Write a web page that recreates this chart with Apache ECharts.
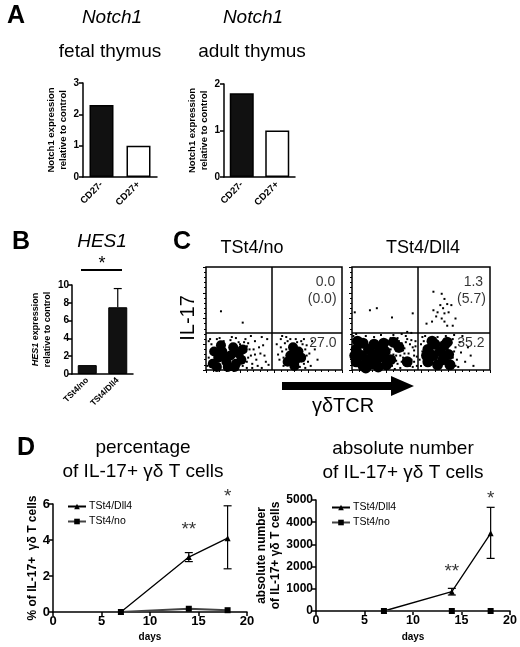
<!DOCTYPE html>
<html><head><meta charset="utf-8">
<script src="https://cdn.jsdelivr.net/npm/echarts@6/dist/echarts.min.js"></script>
<style>html,body{margin:0;padding:0;background:#fff}#c{width:520px;height:647px}</style>
</head><body><div id="c"></div>
<script>
// ---------- DATA ----------
const notchCats = ['CD27-', 'CD27+'];
const fetalNotch = [2.3, 1.0];
const adultNotch = [1.8, 1.0];
const hesCats = ['TSt4/no', 'TSt4/Dll4'];
const hesValues = [1.0, 7.5];
const hesErr = [[1, 7.5, 9.6]]; // [category index, mean, upper]

// flow cytometry (arbitrary 0-100 units), quadrant gates
const gateX = 48, gateY = 36;
const noDense = [[5,6],[9,12],[12,18],[15,8],[18,14],[20,22],[22,6],[24,16],[11,24],[6,18],[16,3],[26,10],[14,13],[21,3],[8,3],[27,20],
  [62,14],[66,10],[68,18],[64,22],[70,12],[60,8],[65,4]];
const noDots = [[2,28],[4,25],[8,30],[13,28],[18,29],[24,27],[27,22],[29,18],[30,8],[31,26],[33,14],[35,20],[37,10],[38,4],[40,16],[42,24],[44,8],[36,28],[29,30],[22,31],[30,2],[34,6],[2,12],[1,4],[27,4],[25,25],[41,32],[33,33],[45,30],[39,22],
  [31,12],[32,20],[34,2],[36,15],[30,23],[28,27],[3,30],[10,31],[19,32],[43,14],[46,5],[41,2],
  [52,25],[54,10],[55,30],[56,18],[57,4],[58,26],[59,32],[72,30],[74,24],[75,8],[76,16],[78,28],[77,4],[73,2],[66,30],[70,28],[62,30],[80,20],[82,10],[56,33],[69,3],[63,3],
  [53,15],[55,22],[57,12],[59,20],[73,20],[74,14],[72,6],[60,28],[67,27],[71,25],[11,57],[27,46]];
const dllDense = [[3,8],[3,20],[7,14],[8,4],[8,26],[11,10],[12,20],[14,6],[15,15],[16,25],[18,10],[19,3],[20,20],[4,28],[22,13],[23,26],[25,5],[28,10],[34,22],[40,8],[30,27],[2,14],[10,2],[24,18],
  [55,8],[55,20],[59,14],[60,25],[62,5],[64,18],[66,10],[67,24],[70,15],[71,5],[58,28],[69,27],[54,14]];
const dllDots = [[26,12],[27,28],[28,20],[29,4],[30,15],[31,24],[32,9],[33,31],[34,18],[35,2],[36,26],[37,12],[38,21],[39,6],[40,30],[41,16],[42,25],[43,10],[44,3],[45,19],[46,28],[47,13],[30,34],[36,35],[40,37],[43,36],[28,31],[33,6],[38,16],[42,4],[45,8],[31,1],[35,14],[39,27],[44,22],[27,17],
  [32,14],[34,28],[36,8],[37,19],[41,11],[43,29],[45,14],[46,23],[29,9],[33,25],[39,33],[47,4],
  [49,10],[50,25],[51,32],[50,4],[73,30],[75,22],[76,10],[77,3],[78,27],[79,17],[80,33],[82,8],[84,22],[86,14],[88,4],[53,33],[62,32],[68,33],[74,34],[1,33],[3,35],[10,33],[16,32],[21,34],
  [73,12],[74,18],[72,26],[75,4],[51,18],[52,28],
  [59,76],[65,74],[67,69],[64,63],[69,64],[72,63],[66,60],[62,56],[67,55],[70,56],[61,52],[65,50],[75,50],[58,47],[67,47],[69,43],[54,45],[73,43],[59,58],
  [13,58],[18,60],[29,51],[44,55],[2,56]];
const noQuad = [[95,85,'0.0'],[96,69,'(0.0)'],[96,26,'27.0']];
const dllQuad = [[95,85,'1.3'],[97,69,'(5.7)'],[96,26,'35.2']];

// time course
const days = [7, 14, 18];
const pctDll = [0, 3.05, 4.1];
const pctNo = [0, 0.18, 0.1];
const pctDllErr = [[14, 2.8, 3.3], [18, 2.4, 5.9]];
const absDll = [0, 870, 3500];
const absNo = [0, 0, 0];
const absDllErr = [[14, 720, 1020], [18, 2370, 4670]];
const pctStars = [[14, 4.55, '**'], [18, 6.4, '*']];
const absStars = [[14, 1750, '**'], [18, 5050, '*']];

// ---------- CHART ----------
const F = 'Liberation Sans, Arial, sans-serif';
const chart = echarts.init(document.getElementById('c'), null, {renderer: 'canvas'});
const axLine = {show: true, lineStyle: {color: '#000', width: 1.5}};
const tick = {show: true, length: 4, lineStyle: {color: '#000', width: 1.5}};
const lblB = (s) => ({color: '#000', fontWeight: 'bold', fontSize: s, fontFamily: F});
const plain = (v) => String(v);

function pair(arrX, arrY) { return arrX.map((x, i) => [x, arrY[i]]); }
function errRender(capOnlyTop) {
  return function (params, api) {
    const x = api.value(0), lo = api.value(1), hi = api.value(2);
    const a = api.coord([x, lo]), b = api.coord([x, hi]);
    const w = 4;
    const ch = [
      {type: 'line', shape: {x1: a[0], y1: a[1], x2: b[0], y2: b[1]}, style: {stroke: '#000', lineWidth: 1.2}},
      {type: 'line', shape: {x1: b[0] - w, y1: b[1], x2: b[0] + w, y2: b[1]}, style: {stroke: '#000', lineWidth: 1.2}}
    ];
    if (!capOnlyTop) ch.push({type: 'line', shape: {x1: a[0] - w, y1: a[1], x2: a[0] + w, y2: a[1]}, style: {stroke: '#000', lineWidth: 1.2}});
    return {type: 'group', children: ch};
  };
}
function txt(x, y, t, size, extra) {
  return {type: 'text', x: x, y: y, style: Object.assign({text: t, font: size + 'px ' + F, fill: '#000', textAlign: 'center', textVerticalAlign: 'middle'}, extra || {})};
}
const flowAxis = (g) => ({type: 'value', gridIndex: g, min: 0, max: 100, interval: 25, axisLine: {show: false}, axisLabel: {show: false}, splitLine: {show: false},
  axisTick: {show: true, length: 3, lineStyle: {color: '#000', width: 1}}, minorTick: {show: true, splitNumber: 5, length: 2, lineStyle: {color: '#000'}}});

const labelSeries = (xi, yi, data) => ({type: 'scatter', xAxisIndex: xi, yAxisIndex: yi, data: data, symbolSize: 0, silent: true, clip: false, z: 5,
  label: {show: true, formatter: (p) => p.data[2], position: [0, 0], align: 'right', verticalAlign: 'middle', fontSize: 14, fontFamily: F, color: '#000'}});
const starSeries = (xi, yi, data) => ({type: 'scatter', xAxisIndex: xi, yAxisIndex: yi, data: data, symbolSize: 0, silent: true, clip: false,
  label: {show: true, formatter: (p) => p.data[2], position: [0, 0], align: 'center', verticalAlign: 'middle', fontSize: 19, fontFamily: F, color: '#000'}});

const option = {
  backgroundColor: '#fff',
  animation: false,
  textStyle: {fontFamily: F},
  grid: [
    {left: 83, top: 83, width: 74, height: 94},
    {left: 224, top: 84, width: 71, height: 93},
    {left: 72, top: 285, width: 61, height: 89},
    {left: 206, top: 267, width: 136, height: 103, show: true, borderColor: '#000', borderWidth: 1.5},
    {left: 352, top: 267, width: 138, height: 103, show: true, borderColor: '#000', borderWidth: 1.5},
    {left: 53, top: 504, width: 194, height: 108},
    {left: 316, top: 500, width: 195, height: 111}
  ],
  xAxis: [
    {type: 'category', gridIndex: 0, data: notchCats, axisLine: axLine, axisTick: {show: false}, axisLabel: Object.assign(lblB(9.5), {rotate: 45, margin: 6, interval: 0})},
    {type: 'category', gridIndex: 1, data: notchCats, axisLine: axLine, axisTick: {show: false}, axisLabel: Object.assign(lblB(9.5), {rotate: 45, margin: 6, interval: 0})},
    {type: 'category', gridIndex: 2, data: hesCats, axisLine: axLine, axisTick: {show: false}, axisLabel: Object.assign(lblB(8.5), {rotate: 45, margin: 5, interval: 0})},
    flowAxis(3), flowAxis(4),
    {type: 'value', gridIndex: 5, min: 0, max: 20, interval: 5, axisLine: axLine, axisTick: tick, splitLine: {show: false}, axisLabel: Object.assign(lblB(13), {margin: 3, formatter: plain}),
      name: 'days', nameLocation: 'middle', nameGap: 20, nameTextStyle: lblB(10)},
    {type: 'value', gridIndex: 6, min: 0, max: 20, interval: 5, axisLine: axLine, axisTick: tick, splitLine: {show: false}, axisLabel: Object.assign(lblB(12.5), {margin: 3, formatter: plain}),
      name: 'days', nameLocation: 'middle', nameGap: 21, nameTextStyle: lblB(10)}
  ],
  yAxis: [
    {type: 'value', gridIndex: 0, min: 0, max: 3, interval: 1, axisLine: axLine, axisTick: tick, splitLine: {show: false}, axisLabel: Object.assign(lblB(10), {margin: 4}),
      name: 'Notch1 expression\nrelative to control', nameLocation: 'middle', nameRotate: 90, nameGap: 10, nameTextStyle: Object.assign(lblB(9.5), {lineHeight: 12})},
    {type: 'value', gridIndex: 1, min: 0, max: 2, interval: 1, axisLine: axLine, axisTick: tick, splitLine: {show: false}, axisLabel: Object.assign(lblB(10), {margin: 4}),
      name: 'Notch1 expression\nrelative to control', nameLocation: 'middle', nameRotate: 90, nameGap: 10, nameTextStyle: Object.assign(lblB(9.5), {lineHeight: 12})},
    {type: 'value', gridIndex: 2, min: 0, max: 10, interval: 2, axisLine: axLine, axisTick: tick, splitLine: {show: false}, axisLabel: Object.assign(lblB(10), {margin: 3}),
      name: '{i|HES1} expression\nrelative to control', nameLocation: 'middle', nameRotate: 90, nameGap: 18,
      nameTextStyle: Object.assign(lblB(9), {lineHeight: 12, rich: {i: {fontStyle: 'italic', fontWeight: 'bold', fontSize: 9, fontFamily: F, color: '#000'}}})},
    flowAxis(3), flowAxis(4),
    {type: 'value', gridIndex: 5, min: 0, max: 6, interval: 2, axisLine: axLine, axisTick: tick, splitLine: {show: false}, axisLabel: Object.assign(lblB(13), {margin: 3}),
      name: '% of IL-17+  γδ T cells', nameLocation: 'middle', nameRotate: 90, nameGap: 14, nameTextStyle: lblB(12)},
    {type: 'value', gridIndex: 6, min: 0, max: 5000, interval: 1000, axisLine: axLine, axisTick: tick, splitLine: {show: false}, axisLabel: Object.assign(lblB(12), {margin: 3, formatter: plain}),
      name: 'absolute number\nof IL-17+ γδ T cells', nameLocation: 'middle', nameRotate: 90, nameGap: 32, nameTextStyle: Object.assign(lblB(12), {lineHeight: 14})}
  ],
  legend: [
    {orient: 'vertical', left: 62, top: 496, itemGap: 4, itemWidth: 18, itemHeight: 7, data: ['TSt4/Dll4', 'TSt4/no'],
      textStyle: {fontSize: 10.5, fontFamily: F, color: '#000', padding: [0, 0, 0, -2]}, selectedMode: false},
    {orient: 'vertical', left: 326, top: 497, itemGap: 4, itemWidth: 18, itemHeight: 7, data: ['TSt4/Dll4', 'TSt4/no'],
      textStyle: {fontSize: 10.5, fontFamily: F, color: '#000', padding: [0, 0, 0, -2]}, selectedMode: false}
  ],
  series: [
    {type: 'bar', xAxisIndex: 0, yAxisIndex: 0, barWidth: 24, silent: true,
      data: fetalNotch.map((v, i) => ({value: v, itemStyle: {color: i === 0 ? '#111' : '#fff', borderColor: '#000', borderWidth: 1.5}}))},
    {type: 'bar', xAxisIndex: 1, yAxisIndex: 1, barWidth: 24, silent: true,
      data: adultNotch.map((v, i) => ({value: v, itemStyle: {color: i === 0 ? '#111' : '#fff', borderColor: '#000', borderWidth: 1.5}}))},
    {type: 'bar', xAxisIndex: 2, yAxisIndex: 2, barWidth: 19, silent: true, itemStyle: {color: '#111', borderColor: '#000', borderWidth: 1}, data: hesValues},
    {type: 'custom', xAxisIndex: 2, yAxisIndex: 2, renderItem: errRender(true), data: hesErr, silent: true, z: 1},
    // flow plot 1
    {type: 'scatter', xAxisIndex: 3, yAxisIndex: 3, data: noDense, symbolSize: 10, itemStyle: {color: '#000', opacity: 1}, silent: true,
      markLine: {silent: true, symbol: 'none', label: {show: false}, lineStyle: {color: '#000', width: 1.5, type: 'solid'}, data: [{xAxis: gateX}, {yAxis: gateY}]}},
    {type: 'scatter', xAxisIndex: 3, yAxisIndex: 3, data: noDots, symbolSize: 2, symbol: 'rect', itemStyle: {color: '#000', opacity: 1}, silent: true},
    labelSeries(3, 3, noQuad),
    // flow plot 2
    {type: 'scatter', xAxisIndex: 4, yAxisIndex: 4, data: dllDense, symbolSize: 11, itemStyle: {color: '#000', opacity: 1}, silent: true,
      markLine: {silent: true, symbol: 'none', label: {show: false}, lineStyle: {color: '#000', width: 1.5, type: 'solid'}, data: [{xAxis: gateX}, {yAxis: gateY}]}},
    {type: 'scatter', xAxisIndex: 4, yAxisIndex: 4, data: dllDots, symbolSize: 2, symbol: 'rect', itemStyle: {color: '#000', opacity: 1}, silent: true},
    labelSeries(4, 4, dllQuad),
    // time course percentage
    {name: 'TSt4/Dll4', type: 'line', xAxisIndex: 5, yAxisIndex: 5, data: pair(days, pctDll), symbol: 'triangle', symbolSize: 6,
      lineStyle: {color: '#000', width: 1.3}, itemStyle: {color: '#000'}, z: 3},
    {name: 'TSt4/no', type: 'line', xAxisIndex: 5, yAxisIndex: 5, data: pair(days, pctNo), symbol: 'rect', symbolSize: 6,
      lineStyle: {color: '#444', width: 2}, itemStyle: {color: '#000'}, z: 3},
    {type: 'custom', xAxisIndex: 5, yAxisIndex: 5, renderItem: errRender(false), data: pctDllErr, silent: true},
    starSeries(5, 5, pctStars),
    // time course absolute
    {name: 'TSt4/Dll4', type: 'line', xAxisIndex: 6, yAxisIndex: 6, data: pair(days, absDll), symbol: 'triangle', symbolSize: 6,
      lineStyle: {color: '#000', width: 1.3}, itemStyle: {color: '#000'}, z: 3},
    {name: 'TSt4/no', type: 'line', xAxisIndex: 6, yAxisIndex: 6, data: pair(days, absNo), symbol: 'rect', symbolSize: 6,
      lineStyle: {color: '#444', width: 2}, itemStyle: {color: '#000'}, z: 3},
    {type: 'custom', xAxisIndex: 6, yAxisIndex: 6, renderItem: errRender(false), data: absDllErr, silent: true},
    starSeries(6, 6, absStars)
  ],
  graphic: [
    txt(16, 16, 'A', 24, {font: 'bold 25px ' + F}),
    txt(112, 18, 'Notch1', 19, {font: 'italic 19px ' + F}),
    txt(253, 18, 'Notch1', 19, {font: 'italic 19px ' + F}),
    txt(110, 52, 'fetal thymus', 19),
    txt(252, 52, 'adult thymus', 19),
    txt(21, 242, 'B', 24, {font: 'bold 25px ' + F}),
    txt(102, 242, 'HES1', 19, {font: 'italic 19px ' + F}),
    txt(102, 264, '*', 18),
    {type: 'line', shape: {x1: 81, y1: 270, x2: 122, y2: 270}, style: {stroke: '#000', lineWidth: 2}},
    txt(182, 242, 'C', 24, {font: 'bold 25px ' + F}),
    txt(252, 248, 'TSt4/no', 18),
    txt(423, 248, 'TSt4/Dll4', 18),
    {type: 'text', x: 188, y: 318, rotation: Math.PI / 2, style: {text: 'IL-17', font: '20px ' + F, fill: '#000', textAlign: 'center', textVerticalAlign: 'middle'}},
    {type: 'polygon', shape: {points: [[282, 382], [391, 382], [391, 376], [414, 386], [391, 396], [391, 390], [282, 390]]}, style: {fill: '#000'}},
    txt(343, 406, 'γδTCR', 20),
    txt(26, 448, 'D', 24, {font: 'bold 25px ' + F}),
    txt(143, 448, 'percentage', 19),
    txt(143, 472, 'of IL-17+ γδ T cells', 19),
    txt(403, 449, 'absolute number', 19),
    txt(403, 473, 'of IL-17+ γδ T cells', 19)
  ]
};
chart.setOption(option);
</script></body></html>
